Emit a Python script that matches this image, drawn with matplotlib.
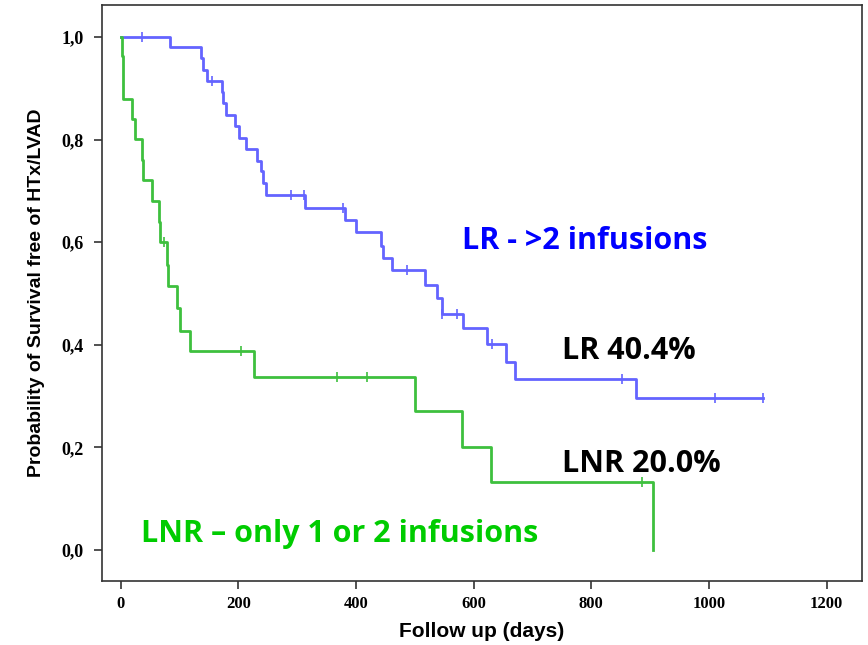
import matplotlib
matplotlib.use("Agg")
import matplotlib.pyplot as plt

# Kaplan-Meier steps, LR group (>2 infusions)
lr_time = [0, 83, 137, 139, 147, 172, 173, 178, 194, 201, 212, 231, 239, 241, 246,
           313, 381, 400, 442, 446, 461, 517, 538, 546, 581, 622, 655, 670, 876, 1091]
lr_surv = [1.0, 0.980, 0.959, 0.936, 0.914, 0.893, 0.871, 0.848, 0.826, 0.803, 0.782,
           0.759, 0.738, 0.715, 0.692, 0.667, 0.643, 0.619, 0.593, 0.569, 0.545,
           0.517, 0.491, 0.460, 0.432, 0.401, 0.367, 0.333, 0.296, 0.296]
lr_cens_time = [36, 155, 289, 312, 378, 486, 546, 572, 631, 852, 1010, 1091]
lr_cens_surv = [1.0, 0.914, 0.692, 0.692, 0.667, 0.545, 0.460, 0.460, 0.401, 0.333, 0.296, 0.296]

# LNR group (only 1 or 2 infusions)
lnr_time = [0, 2, 3, 4, 19, 24, 36, 38, 53, 65, 66, 79, 80, 96, 100, 117, 226,
            500, 580, 630, 905]
lnr_surv = [1.0, 0.962, 0.922, 0.880, 0.840, 0.801, 0.760, 0.721, 0.681, 0.640,
            0.601, 0.556, 0.515, 0.471, 0.427, 0.387, 0.338, 0.271, 0.201, 0.133, 0.0]
lnr_cens_time = [73, 204, 367, 418, 886]
lnr_cens_surv = [0.601, 0.387, 0.338, 0.338, 0.133]

x_ticks = [0, 200, 400, 600, 800, 1000, 1200]
y_ticks = [0.0, 0.2, 0.4, 0.6, 0.8, 1.0]
y_ticklabels = ["0,0", "0,2", "0,4", "0,6", "0,8", "1,0"]

blue_line = "#6464ff"
green_line = "#3ec03e"

fig = plt.figure(figsize=(8.68, 6.45), dpi=100)
ax = fig.add_axes([0.1175, 0.0992, 0.8755, 0.8928])

ax.step(lr_time, lr_surv, where="post", color=blue_line, lw=2.0)
ax.step(lnr_time, lnr_surv, where="post", color=green_line, lw=2.0)
ax.plot(lr_cens_time, lr_cens_surv, ls="none", marker="|", ms=7, mew=1.2, color=blue_line)
ax.plot(lnr_cens_time, lnr_cens_surv, ls="none", marker="|", ms=7, mew=1.2, color=green_line)

ax.set_xlim(-32, 1260)
ax.set_ylim(-0.0604, 1.062)
ax.set_xticks(x_ticks)
ax.set_yticks(y_ticks)
ax.set_yticklabels(y_ticklabels)

for lab in ax.get_xticklabels():
    lab.set_fontproperties(dict(family="Liberation Serif", weight="bold", size=12))
for lab in ax.get_yticklabels():
    lab.set_fontproperties(dict(family="Liberation Serif", weight="bold", size=13))
ax.tick_params(direction="out", length=6, width=1.2, color="#333333")
ax.tick_params(axis="x", pad=5)
ax.tick_params(axis="y", pad=7)
for sp in ax.spines.values():
    sp.set_color("#333333")
    sp.set_linewidth(1.2)

label_font = ["Liberation Sans", "DejaVu Sans"]
ax.set_xlabel("Follow up (days)", family=label_font, weight="bold", fontsize=15, labelpad=7)
ax.set_ylabel("Probability of Survival free of HTx/LVAD", family=label_font,
              weight="bold", fontsize=14, labelpad=12)

big = dict(family=["Open Sans", "DejaVu Sans"], weight="bold", fontsize=22)
ax.text(580, 0.587, "LR - >2 infusions", color="#0000ff", **big)
ax.text(750, 0.372, "LR 40.4%", color="black", **big)
ax.text(750, 0.153, "LNR 20.0%", color="black", **big)
ax.text(35, 0.015, "LNR \u2013 only 1 or 2 infusions", color="#00cc00", **big)

fig.savefig("out.png", dpi=100)
